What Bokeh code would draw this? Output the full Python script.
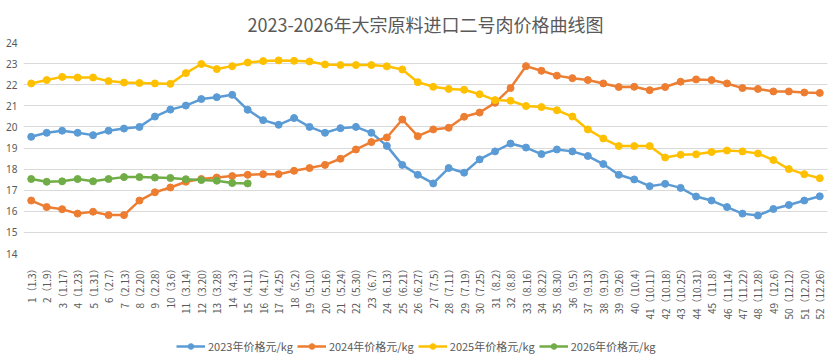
import math
from bokeh.plotting import figure
from bokeh.layouts import column
from bokeh.models import Legend, LegendItem, FactorRange, FixedTicker, Range1d
from bokeh.embed import file_html
from bokeh.resources import INLINE

labels = ["1（1.3）", "2（1.9）", "3（1.17）", "4（1.23）", "5（1.31）", "6（2.7）", "7（2.13）",
          "8（2.20）", "9（2.28）", "10（3.6）", "11（3.14）", "12（3.20）", "13（3.28）", "14（4.3）",
          "15（4.11）", "16（4.17）", "17（4.25）", "18（5.2）", "19（5.10）", "20（5.16）", "21（5.24）",
          "22（5.30）", "23（6.7）", "24（6.13）", "25（6.21）", "26（6.27）", "27（7.5）", "28（7.11）",
          "29（7.19）", "30（7.25）", "31（8.2）", "32（8.8）", "33（8.16）", "34（8.22）", "35（8.30）",
          "36（9.5）", "37（9.13）", "38（9.19）", "39（9.26）", "40（10.4）", "41（10.11）", "42（10.18）",
          "43（10.25）", "44（10.31）", "45（11.8）", "46（11.14）", "47（11.22）", "48（11.28）",
          "49（12.6）", "50（12.12）", "51（12.20）", "52（12.26）"]

v2023 = [19.53, 19.72, 19.82, 19.72, 19.61, 19.82, 19.92, 20.0, 20.49, 20.82,
         21.01, 21.32, 21.41, 21.52, 20.81, 20.32, 20.1, 20.42, 20.0, 19.72,
         19.94, 20.0, 19.72, 19.1, 18.2, 17.73, 17.32, 18.05, 17.83, 18.46,
         18.84, 19.21, 19.02, 18.71, 18.93, 18.84, 18.62, 18.24, 17.73, 17.51,
         17.19, 17.3, 17.11, 16.7, 16.51, 16.2, 15.89, 15.8, 16.11, 16.3, 16.51, 16.71]
v2024 = [16.51, 16.2, 16.1, 15.89, 15.98, 15.82, 15.82, 16.51, 16.9, 17.13, 17.4,
         17.53, 17.6, 17.67, 17.73, 17.76, 17.76, 17.92,
         18.05, 18.2, 18.49, 18.93, 19.28, 19.5, 20.35, 19.56, 19.88, 19.96, 20.48,
         20.68, 21.14, 21.84, 22.88, 22.66, 22.43,
         22.31, 22.22, 22.06, 21.89, 21.9, 21.74, 21.89, 22.14, 22.25, 22.22, 22.06,
         21.84, 21.8, 21.68, 21.68, 21.63, 21.61]
v2025 = [22.06, 22.22, 22.37, 22.34, 22.34, 22.17, 22.1, 22.08, 22.06, 22.04, 22.55,
         22.98, 22.74, 22.88, 23.05, 23.12, 23.15, 23.13,
         23.1, 22.96, 22.93, 22.93, 22.93, 22.87, 22.72, 22.12, 21.9, 21.8, 21.76,
         21.55, 21.27, 21.24, 20.99, 20.94, 20.79,
         20.49, 19.88, 19.45, 19.09, 19.09, 19.09, 18.55, 18.68, 18.7, 18.81, 18.88,
         18.84, 18.74, 18.43, 18.0, 17.76, 17.57]
v2026 = [17.53, 17.4, 17.42, 17.53, 17.42, 17.53, 17.62, 17.62, 17.6, 17.58,
         17.52, 17.48, 17.45, 17.34, 17.32]

series_names = ["2023年价格元/kg", "2024年价格元/kg", "2025年价格元/kg", "2026年价格元/kg"]
series_values = [v2023, v2024, v2025, v2026]
colors = ["#5B9BD5", "#ED7D31", "#FFC000", "#70AD47"]
y_ticks = list(range(14, 25))

TXT = "#595959"
CJK = "Noto Sans CJK SC"

p = figure(width=830, height=330,
           x_range=FactorRange(*labels, range_padding=0),
           y_range=(14, 24),
           output_backend="svg", toolbar_location=None,
           min_border_left=23, min_border_right=3, min_border_top=42, min_border_bottom=77)

p.title.text = "2023-2026年大宗原料进口二号肉价格曲线图"
p.title.align = "center"
p.title.vertical_align = "top"
p.title.text_font = CJK
p.title.text_font_size = "18px"
p.title.text_font_style = "normal"
p.title.text_color = TXT
p.title.standoff = 8

p.outline_line_color = None
p.xgrid.grid_line_color = None
p.ygrid.grid_line_color = "#d9d9d9"
p.ygrid.grid_line_width = 1

p.yaxis.ticker = FixedTicker(ticks=y_ticks)
p.yaxis.axis_line_color = None
p.yaxis.major_tick_line_color = None
p.yaxis.minor_tick_line_color = None
p.yaxis.major_tick_out = 0
p.yaxis.major_tick_in = 0
p.yaxis.major_label_text_font = "Noto Sans"
p.yaxis.major_label_text_font_size = "10px"
p.yaxis.major_label_text_color = TXT
p.yaxis.major_label_standoff = 6

p.xaxis.axis_line_color = None
p.xaxis.major_tick_line_color = None
p.xaxis.major_tick_out = 0
p.xaxis.major_tick_in = 0
p.xaxis.major_label_orientation = math.pi / 2
p.xaxis.major_label_text_font = CJK
p.xaxis.major_label_text_font_size = "10px"
p.xaxis.major_label_text_color = TXT
p.xaxis.major_label_standoff = 10

for name, vals, c in zip(series_names, series_values, colors):
    xs = labels[:len(vals)]
    p.line(xs, vals, line_color=c, line_width=2.5)
    p.scatter(xs, vals, size=7, fill_color=c, line_color=c)

# legend strip below the chart (its own series lie outside its tiny range, so only the legend shows)
pl = figure(width=830, height=26, title=None, x_axis_type=None, y_axis_type=None,
            x_range=FactorRange(*labels, range_padding=0), y_range=Range1d(0, 1),
            output_backend="svg", toolbar_location=None,
            min_border_left=0, min_border_right=0, min_border_top=0, min_border_bottom=0)
pl.outline_line_color = None
items = []
for name, vals, c in zip(series_names, series_values, colors):
    xs = labels[:len(vals)]
    ln = pl.line(xs, vals, line_color=c, line_width=2.5)
    sc = pl.scatter(xs, vals, size=7, fill_color=c, line_color=c)
    items.append(LegendItem(label=name, renderers=[ln, sc]))

legend = Legend(items=items, orientation="horizontal", location=(153, 2),
                border_line_color=None, background_fill_alpha=0,
                label_text_font=CJK, label_text_font_size="11px", label_text_color=TXT,
                glyph_width=29, glyph_height=14, label_height=14, label_standoff=3,
                spacing=4, padding=0, margin=0)
pl.add_layout(legend, "center")

layout = column(p, pl, spacing=0)

open("out.html", "w").write(file_html(layout, INLINE))
